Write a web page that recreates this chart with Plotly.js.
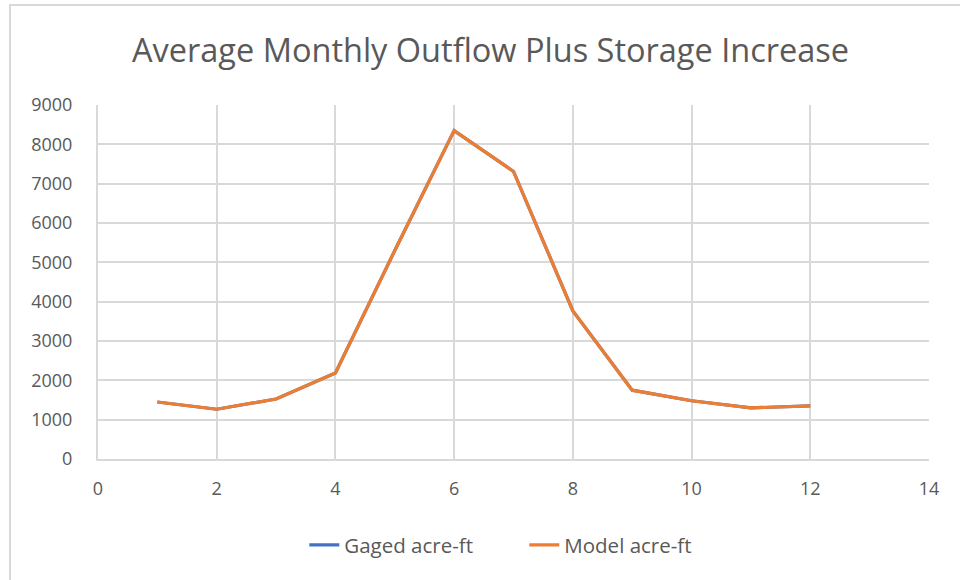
<!DOCTYPE html>
<html>
<head>
<meta charset="utf-8">
<script src="https://cdn.plot.ly/plotly-3.0.1.min.js"></script>
<style>
html,body{margin:0;padding:0;background:#fff;}
#frame{position:absolute;left:9px;top:4px;width:951px;height:576px;border-top:2px solid #d9d9d9;border-left:2px solid #d9d9d9;box-sizing:border-box;}
#chart{position:absolute;left:0;top:0;width:960px;height:580px;}
</style>
</head>
<body>
<div id="frame"></div>
<div id="chart"></div>
<script>
var months = [1, 2, 3, 4, 5, 6, 7, 8, 9, 10, 11, 12];
var gagedAcreFt = [1450, 1265, 1525, 2185, 5300, 8350, 7310, 3765, 1750, 1480, 1300, 1350];
var modelAcreFt = [1450, 1265, 1525, 2185, 5300, 8350, 7310, 3765, 1750, 1480, 1300, 1350];
var seriesNames = ["Gaged acre-ft", "Model acre-ft"];

var font = "'Open Sans', sans-serif";
var traces = [
  {x: months, y: gagedAcreFt, name: seriesNames[0], type: "scatter", mode: "lines",
   line: {color: "#4472C4", width: 3.2}},
  {x: months, y: modelAcreFt, name: seriesNames[1], type: "scatter", mode: "lines",
   line: {color: "#ED7D31", width: 3.2}}
];
var layout = {
  width: 960, height: 580,
  paper_bgcolor: "rgba(0,0,0,0)", plot_bgcolor: "rgba(0,0,0,0)",
  margin: {l: 98, r: 31, t: 105, b: 121},
  title: {text: "Average Monthly Outflow Plus Storage Increase", x: 0.511, xanchor: "center", y: 0.913, yanchor: "middle",
          font: {family: font, size: 32.5, color: "#595959"}},
  xaxis: {range: [0, 14], dtick: 2, tick0: 0, showgrid: true, gridcolor: "#d9d9d9", gridwidth: 2,
          zeroline: false, showline: true, linecolor: "#d9d9d9", linewidth: 2,
          ticks: "", tickfont: {family: font, size: 18, color: "#595959"}, ticklabelstandoff: 12},
  yaxis: {range: [0, 9000], dtick: 1000, tick0: 0, showgrid: true, gridcolor: "#d9d9d9", gridwidth: 2,
          zeroline: false, showline: true, linecolor: "#d9d9d9", linewidth: 2,
          ticks: "", tickfont: {family: font, size: 18, color: "#595959"}, ticklabelstandoff: 20},
  showlegend: true,
  legend: {orientation: "h", x: 0.513, xanchor: "center", y: -0.243, yanchor: "middle",
           font: {family: font, size: 20.5, color: "#595959"}, tracegroupgap: 0, entrywidth: 175}
};
Plotly.newPlot("chart", traces, layout, {displayModeBar: false, staticPlot: true});
</script>
</body>
</html>
